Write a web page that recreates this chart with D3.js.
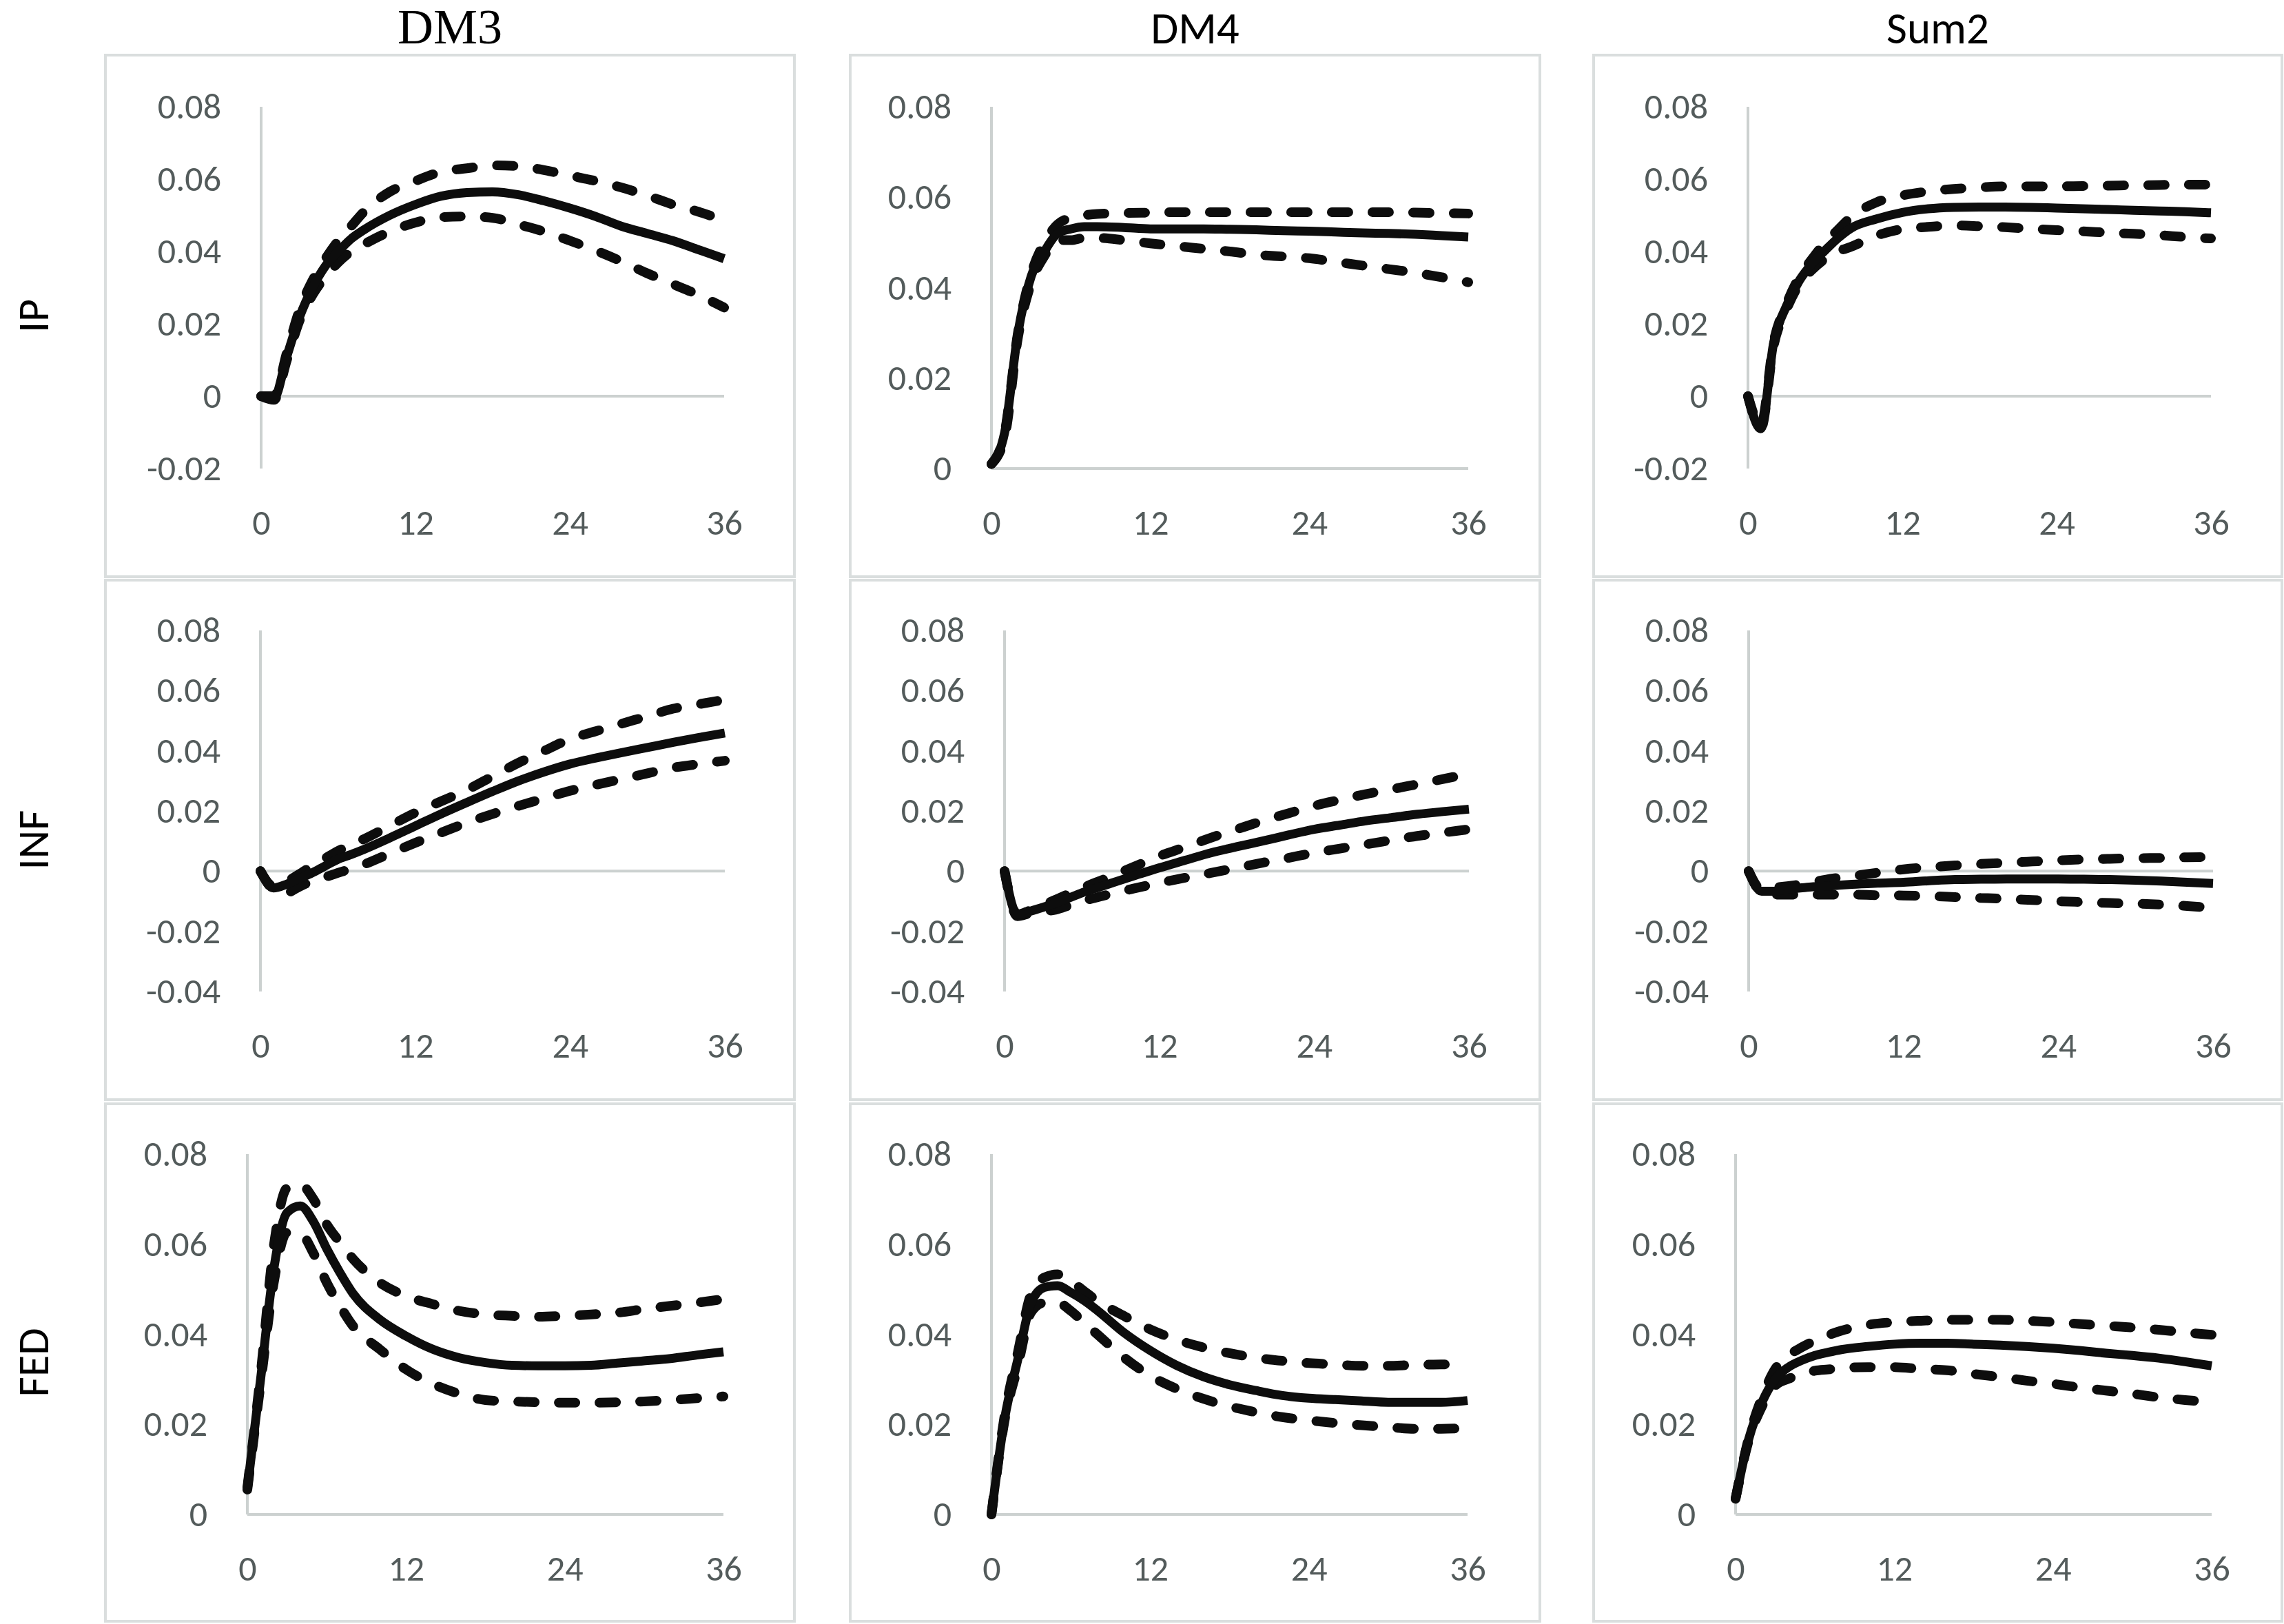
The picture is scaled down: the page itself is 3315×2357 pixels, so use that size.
<!DOCTYPE html>
<html>
<head>
<meta charset="utf-8">
<script src="https://cdn.jsdelivr.net/npm/d3@7"></script>
<style>
  body { margin: 0; background: #fff; }
  svg { display: block; }
</style>
</head>
<body>
<div id="chart"></div>
<script>
// ---- data (impulse responses, months 0..36) ----
const months = [0,1,2,3,4,5,6,7,8,10,12,14,16,18,20,22,24,26,28,30,32,34,36];
const shocks = ["DM3", "DM4", "Sum2"];
const variables = ["IP", "INF", "FED"];
const xTicks = [0, 12, 24, 36];
const ipTicks = [-0.02, 0, 0.02, 0.04, 0.06, 0.08];
const ipTicksDM4 = [0, 0.02, 0.04, 0.06, 0.08];
const infTicks = [-0.04, -0.02, 0, 0.02, 0.04, 0.06, 0.08];
const fedTicks = [0, 0.02, 0.04, 0.06, 0.08];

// IP
const ipDM3Mid = [0,-0.0005,0.011,0.022,0.030,0.036,0.040,0.0435,0.046,0.050,0.053,0.0553,0.0563,0.0565,0.0557,0.054,0.052,0.0497,0.047,0.045,0.043,0.0405,0.038];
const ipDM3Hi  = [0,0,0.012,0.024,0.032,0.038,0.043,0.047,0.051,0.0565,0.0595,0.062,0.063,0.0638,0.0636,0.0625,0.061,0.0595,0.0577,0.0555,0.053,0.051,0.0486];
const ipDM3Lo  = [0,-0.001,0.010,0.021,0.028,0.033,0.037,0.040,0.042,0.0455,0.048,0.0495,0.0497,0.0493,0.0475,0.0455,0.043,0.0403,0.0373,0.034,0.031,0.028,0.0245];

const ipDM4Mid = [0.001,0.008,0.030,0.0425,0.048,0.052,0.053,0.0535,0.0535,0.0533,0.053,0.053,0.053,0.0529,0.0528,0.0526,0.0525,0.0523,0.0521,0.052,0.0518,0.0515,0.0512];
const ipDM4Hi  = [0.001,0.008,0.030,0.043,0.050,0.054,0.0555,0.056,0.0563,0.0565,0.0566,0.0567,0.0567,0.0567,0.0567,0.0567,0.0567,0.0567,0.0567,0.0567,0.0566,0.0565,0.0564];
const ipDM4Lo  = [0.001,0.007,0.029,0.041,0.047,0.0505,0.0505,0.051,0.051,0.0505,0.0498,0.0492,0.0486,0.048,0.0473,0.0469,0.0465,0.0457,0.0449,0.0441,0.0433,0.0423,0.0412];

const ipSum2Mid = [0,-0.009,0.0148,0.025,0.032,0.0367,0.0403,0.0437,0.0464,0.049,0.0508,0.0518,0.0522,0.0523,0.0523,0.0522,0.052,0.0518,0.0516,0.0514,0.0512,0.051,0.0507];
const ipSum2Hi  = [0,-0.008,0.015,0.0255,0.033,0.038,0.0425,0.046,0.0495,0.0536,0.0555,0.0566,0.0573,0.0577,0.058,0.058,0.058,0.0581,0.0582,0.0583,0.0584,0.0585,0.0585];
const ipSum2Lo  = [0,-0.009,0.014,0.024,0.031,0.035,0.038,0.040,0.0413,0.0444,0.0462,0.0468,0.0472,0.047,0.0467,0.0463,0.0459,0.0456,0.0452,0.0449,0.0445,0.044,0.0436];

// INF
const infDM3Mid = [0,-0.0056,-0.0044,-0.0025,-0.0006,0.0017,0.0039,0.0055,0.0072,0.011,0.015,0.019,0.0228,0.0265,0.030,0.033,0.0356,0.0376,0.0394,0.0411,0.0428,0.0444,0.0459];
const infDM3Hi  = [0,-0.005,-0.0035,-0.001,0.0017,0.0042,0.0067,0.0087,0.0106,0.015,0.0194,0.0232,0.027,0.0315,0.036,0.040,0.0439,0.0465,0.049,0.0515,0.054,0.0555,0.057];
const infDM3Lo  = [0,-0.006,-0.0072,-0.0052,-0.0033,-0.002,-0.0006,0.0008,0.0022,0.0058,0.0094,0.0128,0.0161,0.019,0.0217,0.0242,0.0267,0.0287,0.0306,0.0325,0.0344,0.0356,0.0367];

const infDM4Mid = [0,-0.0144,-0.0133,-0.012,-0.0106,-0.0089,-0.0072,-0.0058,-0.0044,-0.0016,0.0011,0.0036,0.0061,0.0081,0.010,0.012,0.0139,0.0153,0.0167,0.0178,0.0189,0.0198,0.0206];
const infDM4Hi  = [0,-0.0144,-0.013,-0.0112,-0.0094,-0.0075,-0.0056,-0.0039,-0.0022,0.0014,0.005,0.008,0.0111,0.0139,0.0167,0.0192,0.0217,0.0237,0.0256,0.0272,0.0289,0.0306,0.0324];
const infDM4Lo  = [0,-0.015,-0.014,-0.0134,-0.0128,-0.0114,-0.010,-0.0089,-0.0078,-0.0058,-0.0039,-0.0022,-0.0006,0.0011,0.0028,0.0044,0.0061,0.0075,0.0089,0.0103,0.0117,0.0128,0.0139];

const infSum2Mid = [0,-0.0067,-0.0067,-0.006,-0.0056,-0.0052,-0.005,-0.0047,-0.0044,-0.004,-0.0037,-0.0032,-0.0028,-0.0027,-0.0026,-0.0026,-0.0026,-0.0027,-0.0028,-0.003,-0.0033,-0.0037,-0.0041];
const infSum2Hi  = [0,-0.006,-0.0055,-0.005,-0.0044,-0.0036,-0.0028,-0.0022,-0.0017,-0.0005,0.0006,0.0013,0.0019,0.0024,0.0028,0.0032,0.0036,0.0039,0.0041,0.0043,0.0044,0.0046,0.0047];
const infSum2Lo  = [0,-0.007,-0.0078,-0.0078,-0.0078,-0.0078,-0.0078,-0.0078,-0.0078,-0.008,-0.0081,-0.0083,-0.0086,-0.0089,-0.0092,-0.0096,-0.010,-0.0103,-0.0106,-0.0108,-0.0111,-0.0116,-0.0122];

// FED
const fedDM3Mid = [0.0058,0.030,0.0545,0.067,0.0685,0.065,0.059,0.0537,0.049,0.0433,0.0396,0.0367,0.0348,0.0337,0.0331,0.033,0.033,0.0331,0.0336,0.0341,0.0346,0.0354,0.0361];
const fedDM3Hi  = [0.006,0.031,0.0596,0.0725,0.0733,0.070,0.0644,0.0604,0.0567,0.0515,0.0485,0.0467,0.0452,0.0444,0.0441,0.0439,0.0441,0.0444,0.0448,0.0456,0.0463,0.047,0.0478];
const fedDM3Lo  = [0.0055,0.029,0.0515,0.0626,0.0624,0.058,0.0515,0.0463,0.0418,0.0367,0.0322,0.029,0.0268,0.0254,0.0251,0.0249,0.0248,0.0248,0.0249,0.0251,0.0254,0.0258,0.0262];

const fedDM4Mid = [0,0.0213,0.0345,0.047,0.0504,0.0508,0.0493,0.0475,0.0453,0.0404,0.0364,0.0331,0.0306,0.0288,0.0275,0.0264,0.0258,0.0255,0.0252,0.0249,0.0249,0.0249,0.0253];
const fedDM4Hi  = [0,0.022,0.036,0.049,0.0526,0.0533,0.0518,0.0496,0.0474,0.0441,0.0411,0.0388,0.0371,0.0358,0.0348,0.0341,0.0336,0.0333,0.033,0.033,0.0332,0.0333,0.0334];
const fedDM4Lo  = [0,0.021,0.033,0.0449,0.047,0.047,0.0452,0.0426,0.040,0.0349,0.0308,0.0279,0.0257,0.024,0.0227,0.0216,0.0209,0.0203,0.0198,0.0194,0.019,0.019,0.0192];

const fedSum2Mid = [0.0035,0.0168,0.0249,0.0301,0.0327,0.0342,0.0353,0.036,0.0366,0.0373,0.0378,0.038,0.038,0.0378,0.0376,0.0373,0.0369,0.0364,0.0358,0.0353,0.0347,0.0339,0.033];
const fedSum2Hi  = [0.0035,0.017,0.026,0.0323,0.0353,0.0371,0.0386,0.0398,0.0408,0.0421,0.0427,0.043,0.0432,0.0432,0.0432,0.043,0.0427,0.0423,0.0419,0.0415,0.041,0.0404,0.0399];
const fedSum2Lo  = [0.0035,0.0165,0.024,0.0286,0.0301,0.0312,0.0319,0.0322,0.0325,0.0327,0.0327,0.0323,0.032,0.0312,0.0305,0.0297,0.029,0.0282,0.0275,0.0268,0.026,0.0254,0.0249];

// grid of panels [row][col], built from the arrays above
const panels = [
  [ {ticks: ipTicks,    lo: ipDM3Lo,  mid: ipDM3Mid,  hi: ipDM3Hi},
    {ticks: ipTicksDM4, lo: ipDM4Lo,  mid: ipDM4Mid,  hi: ipDM4Hi},
    {ticks: ipTicks,    lo: ipSum2Lo, mid: ipSum2Mid, hi: ipSum2Hi} ],
  [ {ticks: infTicks, lo: infDM3Lo,  mid: infDM3Mid,  hi: infDM3Hi},
    {ticks: infTicks, lo: infDM4Lo,  mid: infDM4Mid,  hi: infDM4Hi},
    {ticks: infTicks, lo: infSum2Lo, mid: infSum2Mid, hi: infSum2Hi} ],
  [ {ticks: fedTicks, lo: fedDM3Lo,  mid: fedDM3Mid,  hi: fedDM3Hi},
    {ticks: fedTicks, lo: fedDM4Lo,  mid: fedDM4Mid,  hi: fedDM4Hi},
    {ticks: fedTicks, lo: fedSum2Lo, mid: fedSum2Mid, hi: fedSum2Hi} ]
];

// ---- layout (pixels) ----
const W = 3315, H = 2357;
const boxCols = [[153, 1153], [1234, 2235], [2313, 3312]];
const boxRows = [[80, 837], [842, 1596], [1602, 2353]];
const plotYRange = [[680, 155], [1439, 915], [2198, 1675]];
const plotXRange = [
  [[379, 1051], [1439, 2131], [2537, 3209]],
  [[378, 1052], [1458, 2132], [2538, 3212]],
  [[359, 1050], [1439, 2130], [2519, 3210]]
];

const sansFont = "Carlito, Lato, 'Open Sans', sans-serif";
const axisColor = "#ccd1d0";
const labelColor = "#535b5b";
const lineColor = "#0d0d0d";

const svg = d3.select('#chart')
  .append('svg')
  .attr('width', W)
  .attr('height', H);

svg.append('rect').attr('width', W).attr('height', H).attr('fill', '#fff');

// column titles
svg.selectAll('text.col-title')
  .data(shocks)
  .enter()
  .append('text')
  .attr('class', 'col-title')
  .attr('x', (d, i) => (boxCols[i][0] + boxCols[i][1]) / 2)
  .attr('y', 63)
  .attr('text-anchor', 'middle')
  .attr('font-family', (d, i) => i === 0 ? "'Liberation Serif', 'Times New Roman', serif" : sansFont)
  .attr('font-size', (d, i) => i === 0 ? 72 : 65)
  .attr('fill', '#000')
  .text(d => d);

// row titles (rotated)
svg.selectAll('text.row-title')
  .data(variables)
  .enter()
  .append('text')
  .attr('class', 'row-title')
  .attr('transform', (d, i) => `translate(70, ${(boxRows[i][0] + boxRows[i][1]) / 2}) rotate(-90)`)
  .attr('text-anchor', 'middle')
  .attr('font-family', sansFont)
  .attr('font-size', 64)
  .attr('fill', '#000')
  .text(d => d);

const fmt = d => d === 0 ? "0" : d.toFixed(2);

panels.forEach((row, r) => {
  row.forEach((p, c) => {
    // panel frame
    svg.append('rect')
      .attr('x', boxCols[c][0])
      .attr('y', boxRows[r][0])
      .attr('width', boxCols[c][1] - boxCols[c][0])
      .attr('height', boxRows[r][1] - boxRows[r][0])
      .attr('fill', 'none')
      .attr('stroke', '#dadede')
      .attr('stroke-width', 4);

    const x = d3.scaleLinear().domain([0, 36]).range(plotXRange[r][c]);
    const y = d3.scaleLinear().domain(d3.extent(p.ticks)).range(plotYRange[r]);

    const g = svg.append('g');

    // y axis labels
    const yAxis = g.append('g')
      .attr('transform', `translate(${x(0)},0)`)
      .call(d3.axisLeft(y).tickValues(p.ticks).tickSize(0).tickPadding(58).tickFormat(fmt));
    yAxis.select('.domain').remove();
    yAxis.selectAll('text')
      .attr('font-family', sansFont)
      .attr('font-size', 52)
      .attr('fill', labelColor);

    // x axis labels at bottom of plot
    const xAxis = g.append('g')
      .attr('transform', `translate(0,${y.range()[0]})`)
      .call(d3.axisBottom(x).tickValues(xTicks).tickSize(0).tickFormat(d3.format('d')));
    xAxis.select('.domain').remove();
    xAxis.selectAll('text')
      .attr('y', 78)
      .attr('dy', '0.35em')
      .attr('font-family', sansFont)
      .attr('font-size', 52)
      .attr('fill', labelColor);

    // vertical axis line and zero line
    g.append('line')
      .attr('x1', x(0)).attr('x2', x(0))
      .attr('y1', y.range()[1]).attr('y2', y.range()[0])
      .attr('stroke', axisColor).attr('stroke-width', 4);
    g.append('line')
      .attr('x1', x(0)).attr('x2', x(36))
      .attr('y1', y(0)).attr('y2', y(0))
      .attr('stroke', axisColor).attr('stroke-width', 4);

    const line = d3.line()
      .x((d, i) => x(months[i]))
      .y(d => y(d))
      .curve(d3.curveMonotoneX);

    // confidence bands (dashed) then point estimate (solid)
    [p.lo, p.hi].forEach(series => {
      g.append('path')
        .datum(series)
        .attr('d', line)
        .attr('fill', 'none')
        .attr('stroke', lineColor)
        .attr('stroke-width', 14)
        .attr('stroke-linecap', 'round')
        .attr('stroke-linejoin', 'round')
        .attr('stroke-dasharray', '24,35');
    });
    g.append('path')
      .datum(p.mid)
      .attr('d', line)
      .attr('fill', 'none')
      .attr('stroke', lineColor)
      .attr('stroke-width', 13)
      .attr('stroke-linejoin', 'round');
  });
});
</script>
</body>
</html>
